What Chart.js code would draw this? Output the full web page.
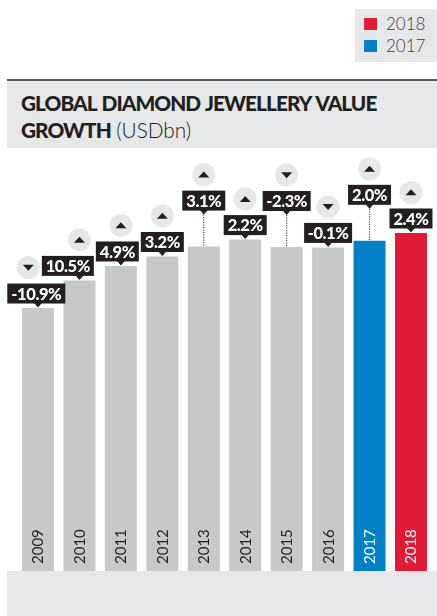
<!DOCTYPE html>
<html>
<head>
<meta charset="utf-8">
<script src="https://cdn.jsdelivr.net/npm/chart.js@4/dist/chart.umd.min.js"></script>
<style>
  html, body { margin: 0; padding: 0; background: #ffffff; }
  body { position: relative; width: 437px; height: 616px; overflow: hidden; font-family: Lato, "Liberation Sans", sans-serif; }
  .band { position: absolute; background: #e6e7e8; }
  #legend { left: 355px; top: 9px; width: 82px; height: 53px; }
  #legend .item { position: absolute; left: 9px; height: 14px; }
  #legend .swatch { position: absolute; left: 0; top: 0; width: 13px; height: 12px; }
  #legend .label { position: absolute; left: 22px; top: -4px; font-size: 17px; font-weight: 300; color: #414042; line-height: 20px; white-space: nowrap; }
  #titleBand { left: 7px; top: 79px; width: 430px; height: 69px; border-top: 2px solid #58595b; box-sizing: border-box; }
  .tline { position: absolute; left: 14px; font-size: 20.8px; line-height: 21px; color: #231f20; white-space: nowrap; }
  .tline b { font-weight: 900; letter-spacing: -0.95px; word-spacing: 1.5px; }
  .tline .unit { font-weight: 300; }
  #footBand { left: 7px; top: 571px; width: 430px; height: 45px; }
  #chart { position: absolute; left: 0; top: 0; }
</style>
</head>
<body>
<div class="band" id="legend"></div>
<div class="band" id="titleBand">
  <div class="tline" style="top:11px"><b>GLOBAL DIAMOND JEWELLERY VALUE</b></div>
  <div class="tline" style="top:38px"><b>GROWTH</b> <span class="unit">(USDbn)</span></div>
</div>
<div class="band" id="footBand"></div>
<canvas id="chart" width="437" height="616"></canvas>
<script>
// Global diamond jewellery value, USD bn, and year-on-year growth
const years = ['2009', '2010', '2011', '2012', '2013', '2014', '2015', '2016', '2017', '2018'];
const values = [63.8, 70.5, 74.0, 76.3, 78.7, 80.4, 78.6, 78.5, 80.1, 82.0];
const growth = [-10.9, 10.5, 4.9, 3.2, 3.1, 2.2, -2.3, -0.1, 2.0, 2.4];
const legendYears = ['2018', '2017'];

const GREY = '#c7c8ca';
const INK = '#231f20';
const highlight = { '2018': '#e11b36', '2017': '#0080c6' };

// legend boxes
const legendEl = document.getElementById('legend');
legendYears.forEach((y, i) => {
  const item = document.createElement('div');
  item.className = 'item';
  item.style.top = (9 + i * 22) + 'px';
  const sw = document.createElement('div');
  sw.className = 'swatch';
  sw.style.background = highlight[y];
  const lb = document.createElement('div');
  lb.className = 'label';
  lb.textContent = y;
  item.appendChild(sw);
  item.appendChild(lb);
  legendEl.appendChild(item);
});

const fmtGrowth = v => v.toFixed(1) + '%';

// year captions inside the bars, growth call-outs above them
const barAnnotations = {
  id: 'barAnnotations',
  afterDatasetsDraw(chart) {
    const ctx = chart.ctx;
    const meta = chart.getDatasetMeta(0);
    const area = chart.chartArea;
    ctx.save();

    // years, rotated, at the foot of each bar
    ctx.font = '400 15px Lato, "Liberation Sans", sans-serif';
    ctx.textAlign = 'left';
    ctx.textBaseline = 'alphabetic';
    meta.data.forEach((bar, i) => {
      ctx.save();
      ctx.translate(bar.x + 5.4, area.bottom - 7);
      ctx.rotate(-Math.PI / 2);
      ctx.fillStyle = highlight[years[i]] ? '#ffffff' : INK;
      ctx.fillText(years[i], 0, 0);
      ctx.restore();
    });

    // call-out boxes
    const H = 20, PAD = 3.8, TIP = 4, LIFT = 36, R = 11.5, BADGE = 16;
    ctx.font = '900 16.5px Lato, "Liberation Sans", sans-serif';
    if ('letterSpacing' in ctx) ctx.letterSpacing = '-0.4px';
    const boxes = meta.data.map((bar, i) => {
      const text = fmtGrowth(growth[i]);
      const w = Math.round(ctx.measureText(text).width + 2 * PAD);
      return { text, w, cx: bar.x, bx: bar.x, left: bar.x - w / 2, top: bar.y - TIP - 0.5 - H, barTop: bar.y, raised: false };
    });
    // resolve overlaps from right to left: slide a clearly lower box left,
    // otherwise raise it on a leader line
    for (let i = boxes.length - 2; i >= 0; i--) {
      const b = boxes[i], n = boxes[i + 1];
      const yOverlap = b.top < n.top + H && n.top < b.top + H;
      const need = b.left + b.w + 2 - n.left;
      if (!yOverlap || need <= 0) continue;
      if (b.barTop - n.barTop > 9 && need < b.w / 2 - 8) {
        b.left -= need;
      } else {
        b.raised = true;
        b.top = b.barTop - LIFT - H;
      }
    }
    // keep each badge clear of the next box
    for (let i = 0; i < boxes.length - 1; i++) {
      const b = boxes[i], n = boxes[i + 1];
      const cy = b.top - BADGE;
      const yOverlap = cy - R < n.top + H && n.top < cy + R;
      const need = b.bx + R + 2 - n.left;
      if (yOverlap && need > 0) {
        b.bx -= need;
        b.left = Math.max(area.left - 10, b.left - need);
      }
    }

    boxes.forEach((b, i) => {
      const tipY = b.top + H + TIP;
      if (b.raised) {
        ctx.save();
        ctx.strokeStyle = '#4d4d4f';
        ctx.lineWidth = 1.2;
        ctx.setLineDash([1.2, 1.3]);
        ctx.beginPath();
        ctx.moveTo(b.cx, tipY);
        ctx.lineTo(b.cx, b.barTop);
        ctx.stroke();
        ctx.restore();
      }
      ctx.fillStyle = INK;
      ctx.fillRect(b.left, b.top, b.w, H);
      ctx.beginPath();
      ctx.moveTo(b.cx - 4, b.top + H - 0.5);
      ctx.lineTo(b.cx + 4, b.top + H - 0.5);
      ctx.lineTo(b.cx, tipY);
      ctx.closePath();
      ctx.fill();

      ctx.fillStyle = '#ffffff';
      ctx.textAlign = 'center';
      ctx.textBaseline = 'middle';
      ctx.fillText(b.text, b.left + b.w / 2, b.top + H / 2 + 1);

      // direction badge
      const cy = b.top - BADGE;
      ctx.fillStyle = '#e6e7e8';
      ctx.beginPath();
      ctx.arc(b.bx, cy, R, 0, Math.PI * 2);
      ctx.fill();
      ctx.fillStyle = INK;
      ctx.beginPath();
      if (growth[i] >= 0) {
        ctx.moveTo(b.bx - 5.5, cy + 2.8);
        ctx.lineTo(b.bx + 5.5, cy + 2.8);
        ctx.lineTo(b.bx, cy - 3.2);
      } else {
        ctx.moveTo(b.bx - 5.5, cy - 2.8);
        ctx.lineTo(b.bx + 5.5, cy - 2.8);
        ctx.lineTo(b.bx, cy + 3.2);
      }
      ctx.closePath();
      ctx.fill();
    });
    ctx.restore();
  }
};

new Chart(document.getElementById('chart'), {
  type: 'bar',
  data: {
    labels: years,
    datasets: [{
      data: values,
      backgroundColor: years.map(y => highlight[y] || GREY),
      borderWidth: 0,
      barPercentage: 0.772,
      categoryPercentage: 1
    }]
  },
  options: {
    responsive: false,
    devicePixelRatio: 1,
    animation: false,
    layout: { padding: { left: 17.3, right: 5.3, top: 158.8, bottom: 45 } },
    scales: {
      x: { display: false },
      y: { display: false, min: 0, max: 100 }
    },
    plugins: { legend: { display: false }, tooltip: { enabled: false } }
  },
  plugins: [barAnnotations]
});
</script>
</body>
</html>
